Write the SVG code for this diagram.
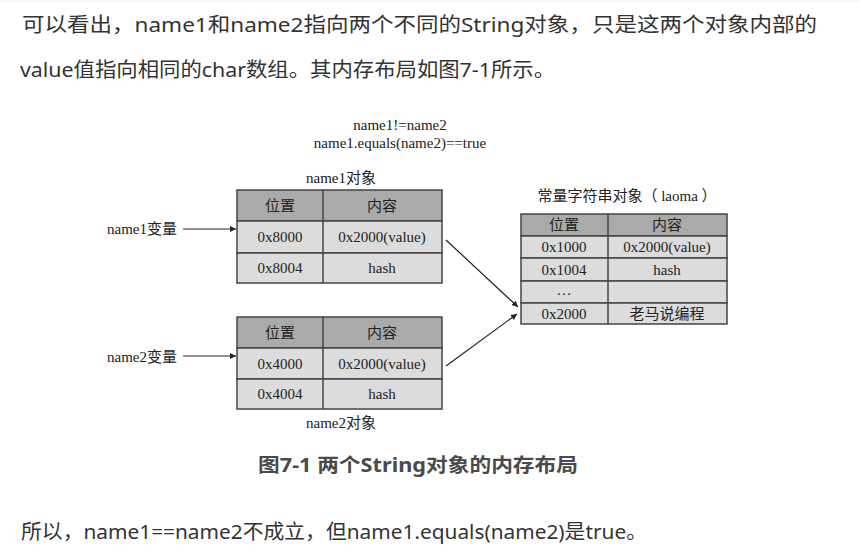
<svg xmlns="http://www.w3.org/2000/svg" width="860" height="557" viewBox="0 0 860 557">
<defs>
<style>
.para{font-family:"Noto Sans","Noto Sans CJK SC",sans-serif;font-size:20px;fill:#333;}
.cap{font-family:"Noto Sans","Noto Sans CJK SC",sans-serif;font-size:19px;font-weight:bold;fill:#4a4a4a;}
.t{font-family:"Liberation Serif","Noto Sans CJK SC",serif;font-size:15px;fill:#222;text-anchor:middle;}
.l{font-family:"Liberation Serif","Noto Sans CJK SC",serif;font-size:15px;fill:#222;}
.hd{fill:#aaaaaa;stroke:#444;stroke-width:1.5;}
.rw{fill:#dcdcdc;stroke:#444;stroke-width:1.5;}
.cn{stroke:#222;stroke-width:1.2;fill:none;marker-end:url(#ah);}
</style>
<marker id="ah" viewBox="0 0 10 10" refX="10" refY="5" markerWidth="10" markerHeight="6" markerUnits="userSpaceOnUse" orient="auto">
<path d="M0,0 L10,5 L0,10 z" fill="#222"/>
</marker>
</defs>
<rect width="860" height="557" fill="#fff"/>
<line x1="0" y1="1" x2="860" y2="1" stroke="#eee"/>
<g id="text-top">
<text class="para" x="22" y="32" textLength="795" lengthAdjust="spacingAndGlyphs">可以看出，name1和name2指向两个不同的String对象，只是这两个对象内部的</text>
<text class="para" x="20" y="77" textLength="535" lengthAdjust="spacingAndGlyphs">value值指向相同的char数组。其内存布局如图7-1所示。</text>
</g>
<g id="header-text">
<text class="t" x="400" y="130">name1!=name2</text>
<text class="t" x="400" y="148">name1.equals(name2)==true</text>
</g>
<g id="name1obj">
<text class="t" x="341" y="183">name1对象</text>
<rect class="hd" x="237" y="190" width="205" height="31"/>
<rect class="rw" x="237" y="221" width="205" height="32"/>
<rect class="rw" x="237" y="253" width="205" height="30"/>
<line x1="323" y1="190" x2="323" y2="283" stroke="#444" stroke-width="1.5"/>
<text class="t" x="280" y="211">位置</text>
<text class="t" x="382" y="211">内容</text>
<text class="t" x="280" y="242">0x8000</text>
<text class="t" x="382" y="242">0x2000(value)</text>
<text class="t" x="280" y="273">0x8004</text>
<text class="t" x="382" y="273">hash</text>
</g>
<g id="name1var">
<text class="l" x="107" y="234">name1变量</text>
</g>
<g id="name2obj">
<rect class="hd" x="237" y="317" width="205" height="31"/>
<rect class="rw" x="237" y="348" width="205" height="31"/>
<rect class="rw" x="237" y="379" width="205" height="30"/>
<line x1="323" y1="317" x2="323" y2="409" stroke="#444" stroke-width="1.5"/>
<text class="t" x="280" y="338">位置</text>
<text class="t" x="382" y="338">内容</text>
<text class="t" x="280" y="369">0x4000</text>
<text class="t" x="382" y="369">0x2000(value)</text>
<text class="t" x="280" y="399">0x4004</text>
<text class="t" x="382" y="399">hash</text>
<text class="t" x="341" y="428">name2对象</text>
</g>
<g id="name2var">
<text class="l" x="107" y="362">name2变量</text>
</g>
<g id="laoma">
<text class="t" x="627" y="201">常量字符串对象（ laoma ）</text>
<rect class="hd" x="521" y="214" width="206" height="22"/>
<rect class="rw" x="521" y="236" width="206" height="22"/>
<rect class="rw" x="521" y="258" width="206" height="23"/>
<rect class="rw" x="521" y="281" width="206" height="22"/>
<rect class="rw" x="521" y="303" width="206" height="21"/>
<line x1="608" y1="214" x2="608" y2="324" stroke="#444" stroke-width="1.5"/>
<text class="t" x="564" y="230">位置</text>
<text class="t" x="667" y="230">内容</text>
<text class="t" x="564" y="252">0x1000</text>
<text class="t" x="667" y="252">0x2000(value)</text>
<text class="t" x="564" y="275">0x1004</text>
<text class="t" x="667" y="275">hash</text>
<text class="t" x="564" y="295">…</text>
<text class="t" x="564" y="319">0x2000</text>
<text class="t" x="667" y="319">老马说编程</text>
</g>
<g id="connectors">
<line class="cn" x1="183" y1="229" x2="236" y2="229"/>
<line class="cn" x1="183" y1="356" x2="236" y2="356"/>
<line class="cn" x1="446" y1="240" x2="518" y2="307"/>
<line class="cn" x1="446" y1="366" x2="517" y2="314"/>
</g>
<g id="caption">
<text class="cap" x="258" y="472" textLength="320" lengthAdjust="spacingAndGlyphs">图7-1 两个String对象的内存布局</text>
</g>
<g id="text-bottom">
<text class="para" x="21" y="539" textLength="626" lengthAdjust="spacingAndGlyphs">所以，name1==name2不成立，但name1.equals(name2)是true。</text>
</g>
</svg>
